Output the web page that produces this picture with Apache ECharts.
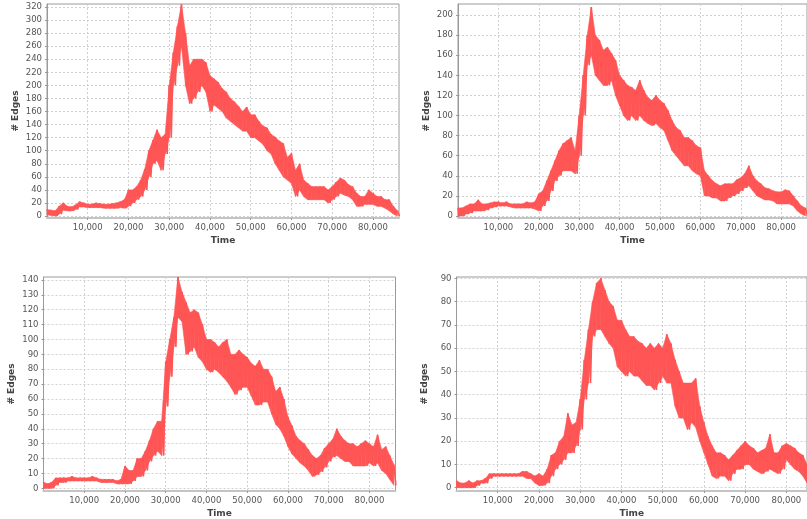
<!DOCTYPE html>
<html>
<head>
<meta charset="utf-8">
<script src="https://cdn.jsdelivr.net/npm/echarts@6/dist/echarts.min.js"></script>
<style>
html, body { margin: 0; padding: 0; background: #fff; }
#chart { width: 807px; height: 519px; }
</style>
</head>
<body>
<div id="chart"></div>
<script>
// sample spacing (time units) of the envelope readings
const STEP = 1000

// top-left: upper / lower edge of the band, one reading every STEP
const p1Hi = [10,9,8,15,20,15,14,17,22,20, 18,18,20,19,18,18,19,20,22,25, 40,40,45,55,72,100,116,132,120,125,
    200,250,290,324,280,230,240,240,240,235, 215,210,205,195,190,180,175,168,160,167, 155,155,145,138,135,125,121,115,111,90,
    96,70,80,55,50,45,45,45,45,40, 45,52,58,55,48,45,35,30,30,40, 35,30,30,25,25,15,8]
const p1Lo = [2,1,0,3,9,8,8,10,14,14, 13,13,13,13,12,12,12,12,13,12, 15,20,25,30,40,60,80,85,70,95,
    120,200,230,260,200,172,180,190,200,190, 160,170,165,160,150,145,140,135,130,130, 120,120,115,110,100,95,80,70,60,55,
    50,30,40,30,25,25,25,25,25,20, 25,30,35,32,30,25,15,15,18,18, 18,15,15,12,8,3,0]

// top-right
const p2Hi = [8,8,10,12,12,16,12,12,13,14, 14,13,14,12,12,12,12,14,13,14, 22,25,35,45,55,65,72,75,78,65,
    100,140,180,208,180,175,165,168,162,155, 140,135,130,128,125,135,125,118,115,120, 115,112,105,95,88,85,78,78,75,70,
    68,45,40,35,32,30,32,32,32,36, 38,42,50,40,35,32,28,27,25,24, 24,26,25,20,15,10,8]
const p2Lo = [0,0,2,3,5,5,5,6,8,9, 10,10,10,9,8,8,8,8,8,7, 5,10,15,25,35,40,45,45,45,42,
    60,100,150,160,140,135,130,130,135,120, 110,100,95,100,95,100,95,92,90,92, 88,85,75,65,60,55,50,50,45,42,
    40,20,20,18,18,15,15,18,20,22, 25,28,30,25,20,18,16,16,15,12, 12,12,12,10,5,2,0]

// bottom-left
const p3Hi = [4,3,4,7,7,7,7,8,7,7, 7,7,8,7,6,6,6,6,5,6, 15,12,12,20,20,25,32,40,45,45,
    85,100,115,142,132,125,118,120,118,110, 100,100,98,95,98,100,90,90,93,90, 88,84,82,86,80,80,75,65,68,60,
    48,42,35,32,30,26,22,20,22,27, 30,33,40,35,32,30,30,28,30,32, 30,28,36,26,28,22,16]
const p3Lo = [0,0,0,2,4,4,5,5,5,5, 5,5,5,5,4,4,4,4,3,3, 3,3,5,8,8,12,18,22,25,22,
    55,75,95,115,112,90,92,95,88,85, 80,78,80,78,75,72,68,63,66,68, 68,62,56,56,58,58,50,43,40,35,
    28,23,20,17,15,12,8,9,11,14, 18,21,22,20,18,18,15,15,15,15, 17,15,17,12,10,6,2]

// bottom-right
const p4Hi = [3,2,2,3,2,3,3,4,6,6, 6,6,6,6,6,6,7,7,6,5, 6,5,8,14,15,20,22,32,27,28,
    38,55,68,80,88,90,85,80,78,72, 72,68,65,65,63,62,60,62,60,62, 60,66,62,55,50,45,45,45,47,35,
    28,22,18,15,15,14,12,14,16,18, 20,18,17,15,16,17,23,15,15,18, 19,18,17,15,14,10]
const p4Lo = [0,0,0,0,0,1,2,2,4,5, 5,5,5,5,5,5,5,4,4,2, 1,1,2,5,8,10,12,15,15,18,
    25,38,45,65,68,68,65,62,60,52, 50,48,50,48,48,46,44,44,42,45, 48,45,45,35,30,30,25,28,26,20,
    15,10,5,4,5,5,3,6,8,8, 10,10,8,7,6,7,8,7,6,8, 12,10,8,7,5,2]

// tick labels
const xTicks = [10000, 20000, 30000, 40000, 50000, 60000, 70000, 80000]
const yTicks1 = [0,20,40,60,80,100,120,140,160,180,200,220,240,260,280,300,320]
const yTicks2 = [0,20,40,60,80,100,120,140,160,180,200]
const yTicks3 = [0,10,20,30,40,50,60,70,80,90,100,110,120,130,140]
const yTicks4 = [0,10,20,30,40,50,60,70,80,90]

// panel layout
const panels = [
    { hi: p1Hi, lo: p1Lo, ticks: yTicks1, left: 47, top: 4, xMax: 86400, yMin: -3, yMax: 324.6 },
    { hi: p2Hi, lo: p2Lo, ticks: yTicks2, left: 458, top: 4, xMax: 86400, yMin: -2, yMax: 211 },
    { hi: p3Hi, lo: p3Lo, ticks: yTicks3, left: 43.5, top: 277, xMax: 86400, yMin: -1.8, yMax: 142 },
    { hi: p4Hi, lo: p4Lo, ticks: yTicks4, left: 456.5, top: 277, xMax: 85000, yMin: -1.4, yMax: 90.6 },
]

const FONT = 'DejaVu Sans'
const RED = '#ff5555'
const chart = echarts.init(document.getElementById('chart'))

// zigzag between upper and lower edge readings
const bandData = (hi, lo) => {
    const out = []
    hi.forEach((h, i) => {
        out.push([i * STEP, h])
        out.push([i * STEP + STEP / 2, lo[i]])
    })
    return out
}

// one quad per interval: [t0, lo0, hi0, t1, lo1, hi1]
const fillData = (hi, lo) => hi.slice(0, -1).map((h, k) => [k * STEP, lo[k], h, (k + 1) * STEP, lo[k + 1], hi[k + 1]])

const renderBand = (params, api) => {
    const pts = [
        api.coord([api.value(0), api.value(2)]),
        api.coord([api.value(3), api.value(5)]),
        api.coord([api.value(3), api.value(4)]),
        api.coord([api.value(0), api.value(1)]),
    ]
    return {
        type: 'polygon',
        shape: { points: pts },
        style: { fill: RED, stroke: RED, lineWidth: 0.6 },
    }
}

const series = []
panels.forEach((p, i) => {
    series.push({
        type: 'custom', xAxisIndex: i, yAxisIndex: i,
        data: fillData(p.hi, p.lo),
        encode: { x: [0, 3], y: [1, 2, 4, 5] },
        renderItem: renderBand, silent: true,
    })
    series.push({
        type: 'line', xAxisIndex: i, yAxisIndex: i,
        data: bandData(p.hi, p.lo),
        showSymbol: false, sampling: null, clip: true,
        lineStyle: { color: RED, width: 1.6 },
    })
})

const option = {
    animation: false,
    backgroundColor: '#fff',
    grid: panels.map(p => ({
        left: p.left, top: p.top, width: 352, height: 214,
        show: true, backgroundColor: '#fff', borderColor: '#9a9a9a', borderWidth: 1,
    })),
    xAxis: panels.map((p, i) => ({
        type: 'value', gridIndex: i, min: 0, max: p.xMax,
        name: 'Time', nameLocation: 'middle', nameGap: 18,
        nameTextStyle: { fontFamily: FONT, fontSize: 9, fontWeight: 'bold', color: '#444' },
        axisLine: { show: true, onZero: false, lineStyle: { color: '#c4c4c4', width: 2 } },
        axisTick: { show: true, length: 2, customValues: xTicks, lineStyle: { color: '#999' } },
        axisLabel: {
            customValues: xTicks, margin: 5, fontFamily: FONT, fontSize: 8.5, color: '#555',
            formatter: v => v.toLocaleString('en-US'),
        },
        splitLine: { show: true, lineStyle: { color: '#d0d0d0', type: [2, 2], width: 1 } },
    })),
    yAxis: panels.map((p, i) => ({
        type: 'value', gridIndex: i, min: p.yMin, max: p.yMax,
        name: '# Edges', nameLocation: 'middle', nameGap: 27, nameRotate: 90,
        nameTextStyle: { fontFamily: FONT, fontSize: 9, fontWeight: 'bold', color: '#444' },
        axisLine: { show: true, lineStyle: { color: '#9a9a9a', width: 1 } },
        axisTick: { show: true, length: 2, customValues: p.ticks, lineStyle: { color: '#999' } },
        axisLabel: { customValues: p.ticks, margin: 5, fontFamily: FONT, fontSize: 8.5, color: '#555' },
        splitLine: { show: true, lineStyle: { color: '#d0d0d0', type: [2, 2], width: 1 } },
    })),
    series: series,
}
chart.setOption(option)
</script>
</body>
</html>
